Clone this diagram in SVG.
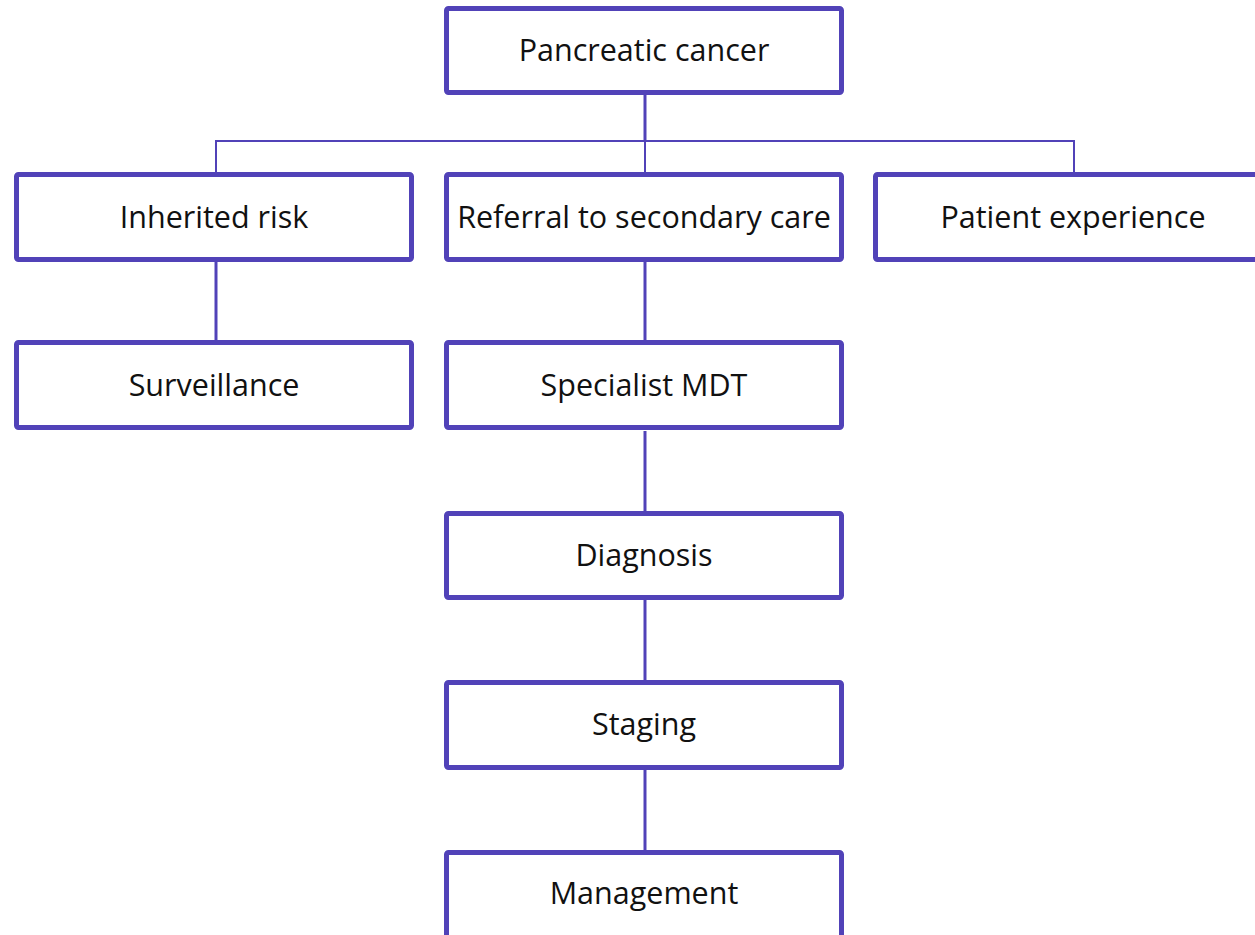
<svg xmlns="http://www.w3.org/2000/svg" width="1255" height="935" viewBox="0 0 1255 935">
<style>
.box{fill:#ffffff;stroke:#5142B8;stroke-width:5;rx:2}
.lbl{font-family:"Open Sans","Liberation Sans",sans-serif;font-size:30.5px;fill:#111111;text-anchor:middle}
.c{stroke:#5142B8;fill:none}
.thick{stroke-width:3}
.thin{stroke-width:2}
</style>
<rect width="1255" height="935" fill="#ffffff"/>
<g id="connectors">
<line class="c thick" x1="645" y1="95" x2="645" y2="141"/>
<polyline class="c thin" points="216,172 216,141 1074,141 1074,172"/>
<line class="c thin" x1="645" y1="141" x2="645" y2="172"/>
<line class="c thick" x1="216" y1="262" x2="216" y2="340"/>
<line class="c thick" x1="645" y1="262" x2="645" y2="340"/>
<line class="c thick" x1="645" y1="431" x2="645" y2="511"/>
<line class="c thick" x1="645" y1="600" x2="645" y2="680"/>
<line class="c thick" x1="645" y1="770" x2="645" y2="850"/>
</g>
<g id="pancreatic-cancer">
<rect class="box" x="446.5" y="8.5" width="395" height="84"/>
<text class="lbl" x="644" y="61">Pancreatic cancer</text>
</g>
<g id="inherited-risk">
<rect class="box" x="16.5" y="174.5" width="395" height="85"/>
<text class="lbl" x="214" y="228">Inherited risk</text>
</g>
<g id="referral">
<rect class="box" x="446.5" y="174.5" width="395" height="85"/>
<text class="lbl" x="644" y="228">Referral to secondary care</text>
</g>
<g id="patient-experience">
<rect class="box" x="875.5" y="174.5" width="395" height="85"/>
<text class="lbl" x="1073" y="228">Patient experience</text>
</g>
<g id="surveillance">
<rect class="box" x="16.5" y="342.5" width="395" height="85"/>
<text class="lbl" x="214" y="396">Surveillance</text>
</g>
<g id="specialist-mdt">
<rect class="box" x="446.5" y="342.5" width="395" height="85"/>
<text class="lbl" x="644" y="396">Specialist MDT</text>
</g>
<g id="diagnosis">
<rect class="box" x="446.5" y="513.5" width="395" height="84"/>
<text class="lbl" x="644" y="566">Diagnosis</text>
</g>
<g id="staging">
<rect class="box" x="446.5" y="682.5" width="395" height="85"/>
<text class="lbl" x="644" y="735">Staging</text>
</g>
<g id="management">
<rect class="box" x="446.5" y="852.5" width="395" height="85"/>
<text class="lbl" x="644" y="904">Management</text>
</g>
</svg>
